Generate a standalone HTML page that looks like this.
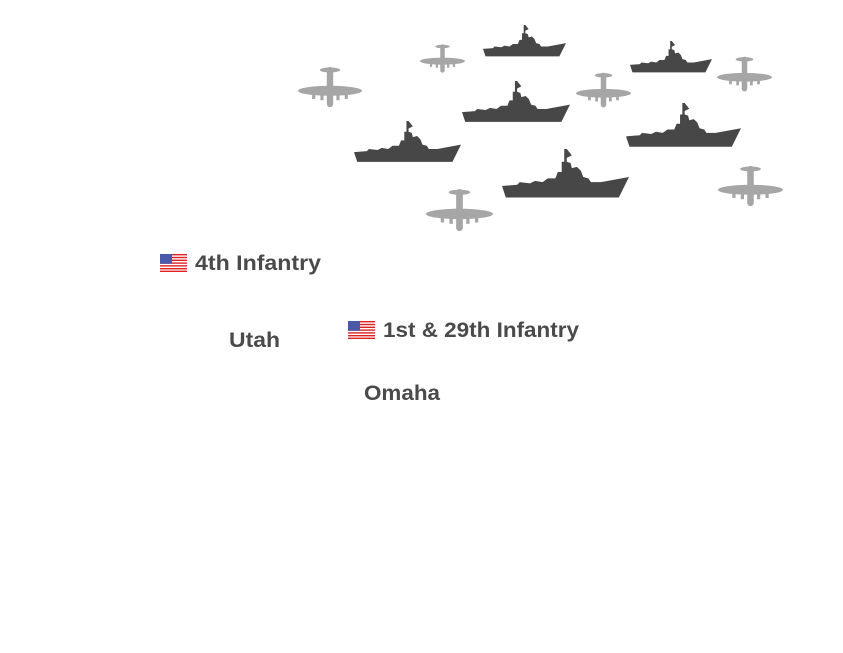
<!DOCTYPE html>
<html><head><meta charset="utf-8"><style>
body{margin:0;background:#fff;width:843px;height:653px;overflow:hidden}
svg{position:absolute;left:0;top:0}
text{font-family:"Liberation Sans",sans-serif;font-weight:bold;fill:#4a4a4a;font-size:21px}
</style></head><body>
<svg width="843" height="653" viewBox="0 0 843 653">
<defs>
<symbol id="ship" viewBox="0 0 100 40" preserveAspectRatio="none">
<path fill="#474747" d="M0,29 L12,28 L14,26 L22,27 L26,25 L32,26 L36,23 L42,23 L44,18 L47,18 L47,10 L49,10 L49,0 L51,0 L55,5 L51,7 L51,10 L54,11 L55,15 L59,14 L62,17 L64,22 L68,23 L70,26 L78,26 L100,22 L92,38 L3,38 Z"/>
</symbol>
<symbol id="plane" viewBox="0 0 100 70" preserveAspectRatio="none">
<g fill="#a6a6a6">
<ellipse cx="50" cy="41" rx="50" ry="8"/>
<rect x="45" y="3" width="10" height="64" rx="5"/>
<ellipse cx="50" cy="8" rx="16" ry="4"/>
<rect x="22" y="44" width="5" height="10"/>
<rect x="35" y="44" width="5" height="12"/>
<rect x="60" y="44" width="5" height="12"/>
<rect x="73" y="44" width="5" height="10"/>
</g>
</symbol>
<symbol id="flag" viewBox="0 0 27 18" preserveAspectRatio="none">
<rect width="27" height="18" fill="#fff"/>
<g fill="#d22">
<rect y="0" width="27" height="1.4"/><rect y="2.8" width="27" height="1.4"/><rect y="5.6" width="27" height="1.4"/><rect y="8.4" width="27" height="1.4"/><rect y="11.2" width="27" height="1.4"/><rect y="14" width="27" height="1.4"/><rect y="16.6" width="27" height="1.4"/>
</g>
<rect width="12" height="9.8" fill="#4a5aa8"/>
</symbol>
</defs>
<use href="#ship" x="354" y="121" width="107" height="43"/>
<use href="#ship" x="462" y="81" width="108" height="43"/>
<use href="#ship" x="483" y="25" width="83" height="33"/>
<use href="#ship" x="630" y="41" width="82" height="33"/>
<use href="#ship" x="626" y="103" width="115" height="46"/>
<use href="#ship" x="502" y="149" width="127" height="51"/>
<use href="#plane" x="298" y="65" width="64" height="44"/>
<use href="#plane" x="420" y="43" width="45" height="31"/>
<use href="#plane" x="576" y="71" width="55" height="38"/>
<use href="#plane" x="717" y="55" width="55" height="38"/>
<use href="#plane" x="426" y="187" width="67" height="46"/>
<use href="#plane" x="718" y="164" width="65" height="44"/>
<use href="#flag" x="160" y="254" width="27" height="18"/>
<use href="#flag" x="348" y="321" width="27" height="18"/>
<text x="195" y="270" textLength="126" lengthAdjust="spacingAndGlyphs">4th Infantry</text>
<text x="383" y="337" textLength="196" lengthAdjust="spacingAndGlyphs">1st &amp; 29th Infantry</text>
<text x="229" y="347" textLength="51" lengthAdjust="spacingAndGlyphs">Utah</text>
<text x="364" y="400" textLength="76" lengthAdjust="spacingAndGlyphs">Omaha</text>
</svg>
</body></html>
